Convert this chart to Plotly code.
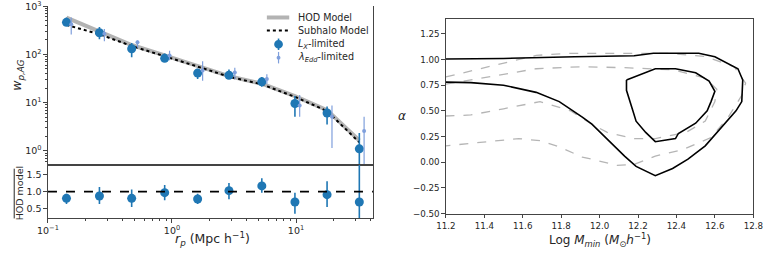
import plotly.graph_objects as go

W, H = 774, 255

# ---------------- Left panel data ----------------
rp_lx = [0.141, 0.26, 0.473, 0.873, 1.61, 2.88, 5.3, 9.8, 17.8, 32.4]
wp_lx = [464, 282, 131, 83, 41, 37, 27, 9.6, 6.1, 1.1]
wp_lx_hi = [582, 371, 172, 105, 50.8, 48.5, 33.9, 13.7, 8.36, 2.36]
wp_lx_lo = [387, 206, 87.3, 70, 31, 31, 21.5, 5.08, 3.54, 0.02]

rp_edd = [0.154, 0.285, 0.527, 0.956, 1.766, 3.21, 5.82, 10.7, 19.5, 35.4]
wp_edd = [424, 270, 180, 95.6, 46.4, 42.4, 30.9, 8.73, 5.08, 2.58]
wp_edd_hi = [582, 338, 194, 120, 72.3, 53.2, 38.8, 14.4, 8.7, 5.08]
wp_edd_lo = [258, 188, 137, 76, 28.4, 31, 24.7, 5.08, 1.15, 0.51]

rp_model = [0.141, 0.26, 0.473, 0.873, 1.61, 2.88, 5.3, 9.8, 17.8, 32.4]
wp_hod = [582, 296, 157, 95.6, 58, 35.4, 24.7, 13.7, 7.0, 1.64]
wp_sub = [410, 262, 150, 93, 56, 34.5, 24.0, 13.2, 6.7, 1.5]

ratio = [0.80, 0.87, 0.80, 0.97, 0.78, 1.03, 1.17, 0.69, 0.91, 0.69]
ratio_hi = [0.94, 1.14, 1.06, 1.20, 0.94, 1.26, 1.40, 0.97, 1.31, 2.0]
ratio_lo = [0.63, 0.63, 0.54, 0.74, 0.63, 0.77, 0.97, 0.34, 0.54, -0.6]

legend_names = ["HOD Model", "Subhalo Model",
                "<i>L<sub>X</sub></i>-limited", "<i>λ<sub>Edd</sub></i>-limited"]

# ---------------- Right panel data (contours) ----------------
blk_outer_x = [11.2, 11.5, 11.87, 12.18, 12.28, 12.395, 12.516, 12.6, 12.67, 12.72, 12.745,
               12.74, 12.71, 12.63, 12.55, 12.46, 12.38, 12.29, 12.19, 12.13, 12.04, 11.96,
               11.91, 11.79, 11.67, 11.5, 11.33, 11.2]
blk_outer_y = [1.005, 1.01, 1.027, 1.037, 1.06, 1.063, 1.06, 1.027, 0.96, 0.91, 0.80,
               0.59, 0.50, 0.33, 0.16, 0.03, -0.06, -0.13, -0.04, 0.06, 0.22, 0.37,
               0.44, 0.59, 0.68, 0.75, 0.775, 0.78]
blk_inner_x = [12.14, 12.21, 12.29, 12.395, 12.50, 12.57, 12.60, 12.58, 12.56, 12.50, 12.41,
               12.395, 12.29, 12.24, 12.19, 12.17, 12.14, 12.14]
blk_inner_y = [0.80, 0.85, 0.91, 0.91, 0.87, 0.79, 0.69, 0.59, 0.50, 0.38, 0.28,
               0.23, 0.20, 0.29, 0.40, 0.52, 0.70, 0.80]
gry_outer_x = [11.2, 11.42, 11.67, 11.84, 12.1, 12.35, 12.55, 12.70, 12.76, 12.74, 12.67,
               12.58, 12.43, 12.29, 12.18, 12.09, 11.96, 11.91, 11.79, 11.69, 11.58, 11.42, 11.2]
gry_outer_y = [0.83, 0.93, 1.04, 1.06, 1.06, 1.06, 1.03, 0.93, 0.77, 0.65, 0.44,
               0.24, 0.12, 0.06, -0.02, -0.03, 0.03, 0.05, 0.15, 0.21, 0.23, 0.20, 0.16]
gry_inner_x = [11.2, 11.45, 11.67, 11.91, 12.13, 12.38, 12.55, 12.61, 12.60, 12.55, 12.45,
               12.29, 12.18, 12.04, 11.96, 11.85, 11.69, 11.50, 11.33, 11.2]
gry_inner_y = [0.76, 0.84, 0.91, 0.93, 0.92, 0.90, 0.82, 0.71, 0.59, 0.40, 0.29,
               0.23, 0.23, 0.29, 0.37, 0.50, 0.59, 0.52, 0.46, 0.45]

xticks_r = [11.2, 11.4, 11.6, 11.8, 12.0, 12.2, 12.4, 12.6, 12.8]
yticks_r = [-0.5, -0.25, 0.0, 0.25, 0.5, 0.75, 1.0, 1.25]

BLUE = "#1f77b4"
LIGHT = "#7f9fdc"
GRAYLINE = "rgba(160,160,160,0.8)"
AX = "#444444"
TXT = "#262626"
FONT = "DejaVu Sans"


def px(x):
    return x / W


def py(y):
    return 1 - y / H


fig = go.Figure()

fig.add_trace(go.Scatter(x=rp_model, y=wp_hod, mode="lines", showlegend=False,
                         line=dict(color=GRAYLINE, width=4), xaxis="x", yaxis="y"))
fig.add_trace(go.Scatter(x=rp_model, y=wp_sub, mode="lines", showlegend=False,
                         line=dict(color="black", width=2, dash="dot"), xaxis="x", yaxis="y"))
fig.add_trace(go.Scatter(
    x=rp_lx, y=wp_lx, mode="markers", showlegend=False,
    marker=dict(color=BLUE, size=9),
    error_y=dict(type="data", symmetric=False,
                 array=[h - v for h, v in zip(wp_lx_hi, wp_lx)],
                 arrayminus=[v - l for v, l in zip(wp_lx, wp_lx_lo)],
                 color=BLUE, thickness=1.6, width=0),
    xaxis="x", yaxis="y"))
fig.add_trace(go.Scatter(
    x=rp_edd, y=wp_edd, mode="markers", showlegend=False,
    marker=dict(color=LIGHT, size=4),
    error_y=dict(type="data", symmetric=False,
                 array=[h - v for h, v in zip(wp_edd_hi, wp_edd)],
                 arrayminus=[v - l for v, l in zip(wp_edd, wp_edd_lo)],
                 color=LIGHT, thickness=1.2, width=0),
    xaxis="x", yaxis="y"))
fig.add_trace(go.Scatter(
    x=rp_lx, y=ratio, mode="markers", showlegend=False,
    marker=dict(color=BLUE, size=9),
    error_y=dict(type="data", symmetric=False,
                 array=[h - v for h, v in zip(ratio_hi, ratio)],
                 arrayminus=[v - l for v, l in zip(ratio, ratio_lo)],
                 color=BLUE, thickness=1.6, width=0),
    xaxis="x2", yaxis="y2"))

for cx, cy, col, dash, wdt in [
    (gry_outer_x, gry_outer_y, "#b5b5b5", "dash", 1.3),
    (gry_inner_x, gry_inner_y, "#b5b5b5", "dash", 1.3),
    (blk_outer_x, blk_outer_y, "black", "solid", 1.6),
    (blk_inner_x, blk_inner_y, "black", "solid", 1.6),
]:
    fig.add_trace(go.Scatter(x=cx, y=cy, mode="lines", showlegend=False,
                             line=dict(color=col, dash=dash, width=wdt),
                             xaxis="x3", yaxis="y3"))

minor_log = [m * 10 ** e for e in range(-2, 4) for m in range(2, 10)]
tf_left = dict(family=FONT, size=9.5, color=TXT)
tf_right = dict(family=FONT, size=8.7, color=TXT)

base = dict(showgrid=False, zeroline=False, linecolor=AX, linewidth=1,
            ticks="outside", ticklen=3.5, tickcolor=AX, ticklabeloverflow="allow")

left_dom = [px(38), px(372)]
fig.update_layout(
    width=W, height=H, margin=dict(l=0, r=0, t=0, b=0),
    paper_bgcolor="white", plot_bgcolor="white",
    font=dict(family=FONT, color=TXT),
    showlegend=False,
    xaxis=dict(type="log", range=[-1, 1.62], domain=left_dom, anchor="y",
               showticklabels=False, showline=True, mirror=False, ticks="",
               showgrid=False, zeroline=False, linecolor=AX, linewidth=1),
    yaxis=dict(type="log", range=[-0.29, 3.005], domain=[py(166), 1], anchor="x",
               tickvals=[1, 10, 100, 1000],
               ticktext=["10<sup>0</sup>", "10<sup>1</sup>", "10<sup>2</sup>", "10<sup>3</sup>"],
               minor=dict(tickvals=minor_log, ticks="outside", ticklen=2, tickcolor=AX),
               mirror=True, showline=True, tickfont=tf_left, **base),
    xaxis2=dict(type="log", range=[-1, 1.62], domain=left_dom, anchor="y2",
                tickvals=[0.1, 1, 10],
                ticktext=["10<sup>−1</sup>", "10<sup>0</sup>", "10<sup>1</sup>"],
                minor=dict(tickvals=minor_log, ticks="outside", ticklen=2, tickcolor=AX),
                mirror=True, showline=True, tickfont=tf_left, **base),
    yaxis2=dict(range=[0.2, 1.8], domain=[py(222), py(166)], anchor="x2",
                tickvals=[0.5, 1.0, 1.5], ticktext=["0.5", "1.0", "1.5"],
                mirror=True, showline=True, tickfont=tf_left, **base),
    xaxis3=dict(range=[11.2, 12.8], domain=[px(447), px(763)], anchor="y3",
                tickvals=xticks_r, ticktext=[f"{v:.1f}" for v in xticks_r],
                mirror=True, showline=True, tickfont=tf_right, **base),
    yaxis3=dict(range=[-0.5, 1.39], domain=[py(217), py(14)], anchor="x3",
                tickvals=yticks_r,
                ticktext=[f"{v:.2f}".replace("-", "−") for v in yticks_r],
                mirror=True, showline=True, tickfont=tf_right, **base),
)

# dashed reference line at ratio = 1
fig.add_shape(type="line", xref="x2 domain", yref="y2", x0=0, x1=1, y0=1, y1=1,
              line=dict(color="black", width=1.6, dash="dash"))
# fraction bar of the lower-panel y label
fig.add_shape(type="line", xref="paper", yref="paper", x0=px(3.3), x1=px(3.3),
              y0=py(170), y1=py(222), line=dict(color=TXT, width=1))

# ---------------- custom legend ----------------
lx0, lx1, lxm, ltx = 263, 286, 275, 293
rows = [12, 25.5, 40, 54]
fig.add_shape(type="line", xref="paper", yref="paper", x0=px(lx0), x1=px(lx1),
              y0=py(rows[0]), y1=py(rows[0]), line=dict(color=GRAYLINE, width=4))
fig.add_shape(type="line", xref="paper", yref="paper", x0=px(lx0), x1=px(lx1),
              y0=py(rows[1]), y1=py(rows[1]), line=dict(color="black", width=2, dash="dot"))
fig.add_shape(type="line", xref="paper", yref="paper", x0=px(lxm), x1=px(lxm),
              y0=py(rows[2] - 6), y1=py(rows[2] + 6), line=dict(color=BLUE, width=1.6))
fig.add_shape(type="circle", xref="paper", yref="paper", x0=px(lxm - 4.5), x1=px(lxm + 4.5),
              y0=py(rows[2] - 4.5), y1=py(rows[2] + 4.5), fillcolor=BLUE, line=dict(width=0))
fig.add_shape(type="line", xref="paper", yref="paper", x0=px(lxm), x1=px(lxm),
              y0=py(rows[3] - 6), y1=py(rows[3] + 6), line=dict(color=LIGHT, width=1.2))
fig.add_shape(type="circle", xref="paper", yref="paper", x0=px(lxm - 2), x1=px(lxm + 2),
              y0=py(rows[3] - 2), y1=py(rows[3] + 2), fillcolor=LIGHT, line=dict(width=0))
for name, ry in zip(legend_names, rows):
    fig.add_annotation(text=name, x=px(ltx), y=py(ry), xref="paper", yref="paper",
                       showarrow=False, xanchor="left", yanchor="middle",
                       font=dict(family=FONT, size=9.6, color=TXT))

ann = [
    dict(text="<i>w<sub>p,AG</sub></i>", x=px(7), y=py(72), textangle=-90, size=12.5, ya="middle"),
    dict(text="HOD model", x=px(9), y=py(195), textangle=-90, size=9.5, ya="middle"),
    dict(text="<i>r<sub>p</sub></i> (Mpc h<sup>−1</sup>)", x=px(207), y=py(255), textangle=0,
         size=12.5, ya="bottom"),
    dict(text="Log <i>M<sub>min</sub></i> (<i>M</i><sub>⊙</sub><i>h</i><sup>−1</sup>)",
         x=px(605), y=py(233), textangle=0, size=12, ya="top"),
    dict(text="<i>α</i>", x=px(402), y=py(115), textangle=0, size=12, ya="middle"),
]
for a in ann:
    fig.add_annotation(text=a["text"], x=a["x"], y=a["y"], xref="paper", yref="paper",
                       showarrow=False, textangle=a["textangle"],
                       font=dict(family=FONT, size=a["size"], color=TXT),
                       xanchor="center", yanchor=a["ya"])

fig.write_html("out.html")
